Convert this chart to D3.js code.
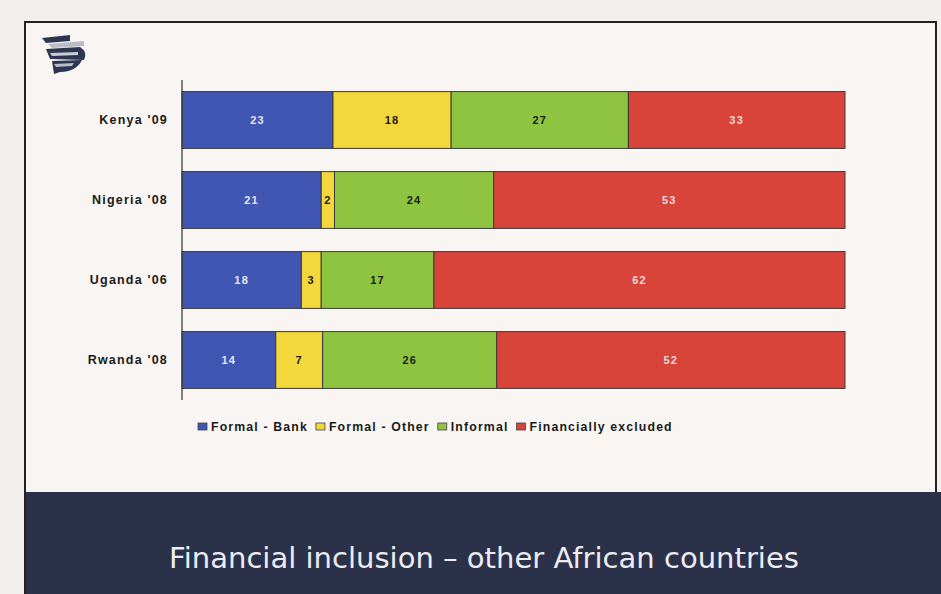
<!DOCTYPE html>
<html>
<head>
<meta charset="utf-8">
<script src="https://cdn.jsdelivr.net/npm/d3@7/dist/d3.min.js"></script>
<style>
  html, body { margin: 0; padding: 0; background: #f3efed; }
  svg { display: block; }
</style>
</head>
<body>
<svg id="chart" width="941" height="594"></svg>
<script>
// ---- data ----
const categories = ["Kenya '09", "Nigeria '08", "Uganda '06", "Rwanda '08"];
const seriesNames = ["Formal - Bank", "Formal - Other", "Informal", "Financially excluded"];
const formalBank = [23, 21, 18, 14];
const formalOther = [18, 2, 3, 7];
const informal = [27, 24, 17, 26];
const excluded = [33, 53, 62, 52];
const seriesColors = ["#4156b3", "#f4d73a", "#8ec440", "#d8443a"];
const labelColors = ["#e4e6f0", "#1a1a1a", "#1a1a1a", "#eadada"];
const titleText = "Financial inclusion \u2013 other African countries";

const seriesValues = [formalBank, formalOther, informal, excluded];
const rows = categories.map((c, i) => {
  const r = { category: c };
  seriesNames.forEach((s, j) => r[s] = seriesValues[j][i]);
  return r;
});

const svg = d3.select("#chart");

// slide background and frame
svg.append("rect").attr("x", 0).attr("y", 0).attr("width", 941).attr("height", 594).attr("fill", "#f3efed");
svg.append("rect").attr("x", 25).attr("y", 22).attr("width", 911).attr("height", 580)
  .attr("fill", "#f9f5f3").attr("stroke", "#222").attr("stroke-width", 2);
svg.append("rect").attr("x", 26).attr("y", 492).attr("width", 915).attr("height", 102).attr("fill", "#2b3149");

// logo (decorative)
const logo = svg.append("g").attr("transform", "translate(40,32)");
logo.append("path").attr("d", "M2,6 L30,3 L30,9 L6,11 Z").attr("fill", "#2d3550");
logo.append("path").attr("d", "M8,12 L44,9 L44,14 L12,16 Z").attr("fill", "#b9bdc8");
logo.append("path").attr("d", "M6,17 L40,15 Q48,20 44,28 L10,27 Z").attr("fill", "#2d3550");
logo.append("path").attr("d", "M10,21 L38,20 L38,23 L12,24 Z").attr("fill", "#c9ccd4");
logo.append("path").attr("d", "M12,29 L42,28 Q36,40 20,40 L14,42 Z").attr("fill", "#2d3550");
logo.append("path").attr("d", "M14,32 L34,31 L32,34 L16,35 Z").attr("fill", "#b9bdc8");

// scales
const x = d3.scaleLinear().domain([0, 1]).range([182, 845]);
const y = d3.scaleBand().domain(categories).range([80, 400]).paddingInner(0.29).paddingOuter(0.145);

const stack = d3.stack().keys(seriesNames).offset(d3.stackOffsetExpand);
const stacked = stack(rows);

const layers = svg.append("g").selectAll("g").data(stacked).join("g")
  .attr("fill", (d, i) => seriesColors[i]);

layers.selectAll("rect").data(d => d).join("rect")
  .attr("x", d => x(d[0]))
  .attr("y", d => y(d.data.category))
  .attr("width", d => x(d[1]) - x(d[0]))
  .attr("height", y.bandwidth())
  .attr("stroke", "#3a3a3a")
  .attr("stroke-width", 1);

// value labels
stacked.forEach((layer, i) => {
  svg.append("g").selectAll("text").data(layer).join("text")
    .attr("x", d => (x(d[0]) + x(d[1])) / 2)
    .attr("y", d => y(d.data.category) + y.bandwidth() / 2)
    .attr("text-anchor", "middle")
    .attr("dominant-baseline", "central")
    .attr("font-family", "'Liberation Sans', Arial, sans-serif")
    .attr("font-weight", "bold")
    .attr("font-size", 11)
    .attr("letter-spacing", 1.2)
    .attr("fill", labelColors[i])
    .text(d => d.data[layer.key]);
});

// y axis
const yAxis = svg.append("g").attr("transform", "translate(182,0)")
  .call(d3.axisLeft(y).tickSize(0).tickPadding(14));
yAxis.select(".domain").remove();
yAxis.append("line").attr("x1", 0).attr("x2", 0).attr("y1", 80).attr("y2", 400)
  .attr("stroke", "#333").attr("stroke-width", 1.2);
yAxis.selectAll(".tick text")
  .attr("font-family", "'Liberation Sans', Arial, sans-serif")
  .attr("font-weight", "bold")
  .attr("font-size", 12.5)
  .attr("letter-spacing", 1.2)
  .attr("fill", "#1a1a1a");

// legend
const legend = svg.append("g").attr("transform", "translate(198,427)");
let lx = 0;
seriesNames.forEach((s, i) => {
  const g = legend.append("g").attr("transform", `translate(${lx},0)`);
  g.append("rect").attr("x", 0).attr("y", -4).attr("width", 9).attr("height", 7)
    .attr("fill", seriesColors[i]).attr("stroke", "#444").attr("stroke-width", 0.8);
  const t = g.append("text").attr("x", 13).attr("y", 0)
    .attr("dominant-baseline", "central")
    .attr("font-family", "'Liberation Sans', Arial, sans-serif")
    .attr("font-weight", "bold")
    .attr("font-size", 12.3)
    .attr("letter-spacing", 1.15)
    .attr("fill", "#1a1a1a")
    .text(s);
  lx += 13 + t.node().getComputedTextLength() + 8;
});

// title
const title = svg.append("text")
  .attr("x", 484).attr("y", 558)
  .attr("text-anchor", "middle")
  .attr("dominant-baseline", "central")
  .attr("font-family", "'DejaVu Sans', Verdana, sans-serif")
  .attr("font-size", 24)
  .attr("fill", "#ecedf2")
  .text(titleText);
const tw = title.node().getComputedTextLength();
title.attr("font-size", 24 * 630 / tw);
</script>
</body>
</html>
